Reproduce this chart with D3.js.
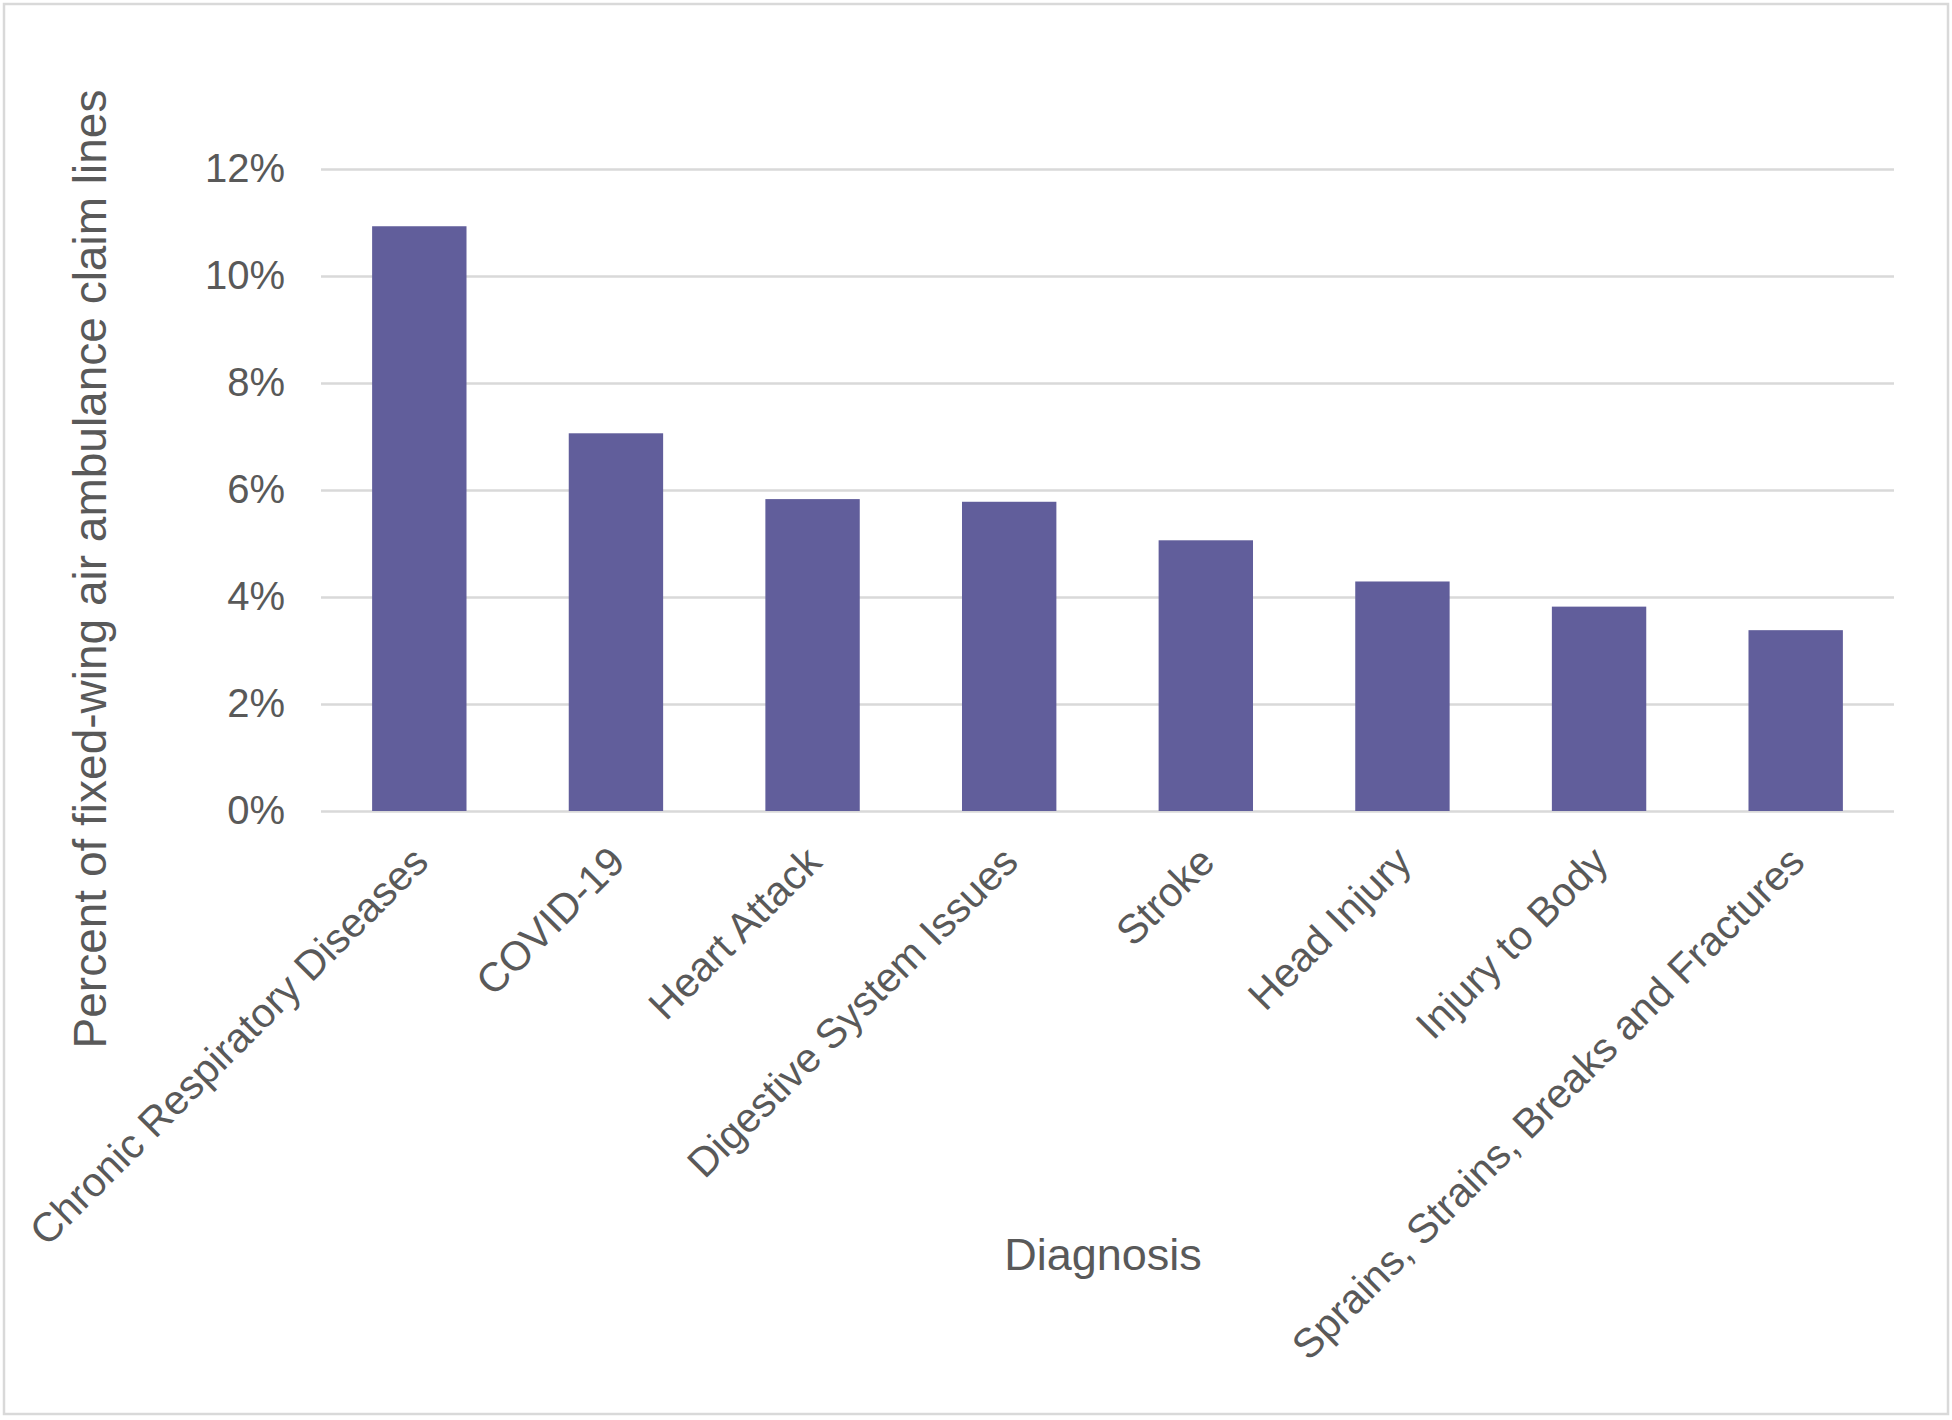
<!DOCTYPE html>
<html>
<head>
<meta charset="utf-8">
<script src="https://cdn.jsdelivr.net/npm/d3@7"></script>
<style>
  body { margin: 0; background: #fff; }
  svg { display: block; }
</style>
</head>
<body>
<svg id="chart"></svg>
<script>
// Data
const categories = [
  "Chronic Respiratory Diseases",
  "COVID-19",
  "Heart Attack",
  "Digestive System Issues",
  "Stroke",
  "Head Injury",
  "Injury to Body",
  "Sprains, Strains, Breaks and Fractures"
];
const values = [10.93, 7.06, 5.83, 5.78, 5.06, 4.29, 3.82, 3.38];
const yTicks = [0, 2, 4, 6, 8, 10, 12];

const width = 1952, height = 1420;
const margin = {top: 169, right: 58, bottom: 609, left: 321};
const textColor = "#595959";
const font = "'Liberation Sans', Arial, sans-serif";

const svg = d3.select("#chart")
  .attr("width", width)
  .attr("height", height);

// Outer frame
svg.append("rect")
  .attr("x", 4).attr("y", 4)
  .attr("width", width - 8).attr("height", height - 10)
  .attr("fill", "#fff")
  .attr("stroke", "#d9d9d9")
  .attr("stroke-width", 2.5);

// Scales
const xScale = d3.scaleBand()
  .domain(categories)
  .range([margin.left, width - margin.right])
  .paddingInner(0.52)
  .paddingOuter(0.26);

const yScale = d3.scaleLinear()
  .domain([0, 12])
  .range([height - margin.bottom, margin.top]);

// Y axis with gridlines
const yAxis = svg.append("g")
  .attr("transform", `translate(${margin.left},0)`)
  .call(d3.axisLeft(yScale)
    .tickValues(yTicks)
    .tickSize(-(width - margin.left - margin.right))
    .tickPadding(36)
    .tickFormat(d => d + "%"));

yAxis.select(".domain").remove();
yAxis.selectAll(".tick line")
  .attr("stroke", "#d9d9d9")
  .attr("stroke-width", 2.5);
yAxis.selectAll(".tick text")
  .attr("fill", textColor)
  .style("font-family", font)
  .style("font-size", "40px");

// Bars
svg.append("g")
  .selectAll("rect")
  .data(values)
  .join("rect")
  .attr("x", (d, i) => xScale(categories[i]))
  .attr("y", d => yScale(d))
  .attr("width", xScale.bandwidth())
  .attr("height", d => yScale(0) - yScale(d))
  .attr("fill", "#615e9b");

// X axis labels, rotated
const xAxis = svg.append("g")
  .attr("transform", `translate(0,${yScale(0)})`)
  .call(d3.axisBottom(xScale).tickSize(0).tickPadding(0));

xAxis.select(".domain").remove();
xAxis.selectAll(".tick text")
  .attr("fill", textColor)
  .style("font-family", font)
  .style("font-size", "41px")
  .attr("text-anchor", "end")
  .attr("y", 0)
  .attr("dy", "0.35em")
  .attr("transform", "translate(1,43) rotate(-45)");

// Axis titles
svg.append("text")
  .attr("x", 1103)
  .attr("y", 1270)
  .attr("text-anchor", "middle")
  .attr("fill", textColor)
  .style("font-family", font)
  .style("font-size", "45px")
  .text("Diagnosis");

svg.append("text")
  .attr("transform", "translate(90,569) rotate(-90)")
  .attr("text-anchor", "middle")
  .attr("dy", "0.35em")
  .attr("fill", textColor)
  .style("font-family", font)
  .style("font-size", "46px")
  .text("Percent of fixed-wing air ambulance claim lines");
</script>
</body>
</html>
